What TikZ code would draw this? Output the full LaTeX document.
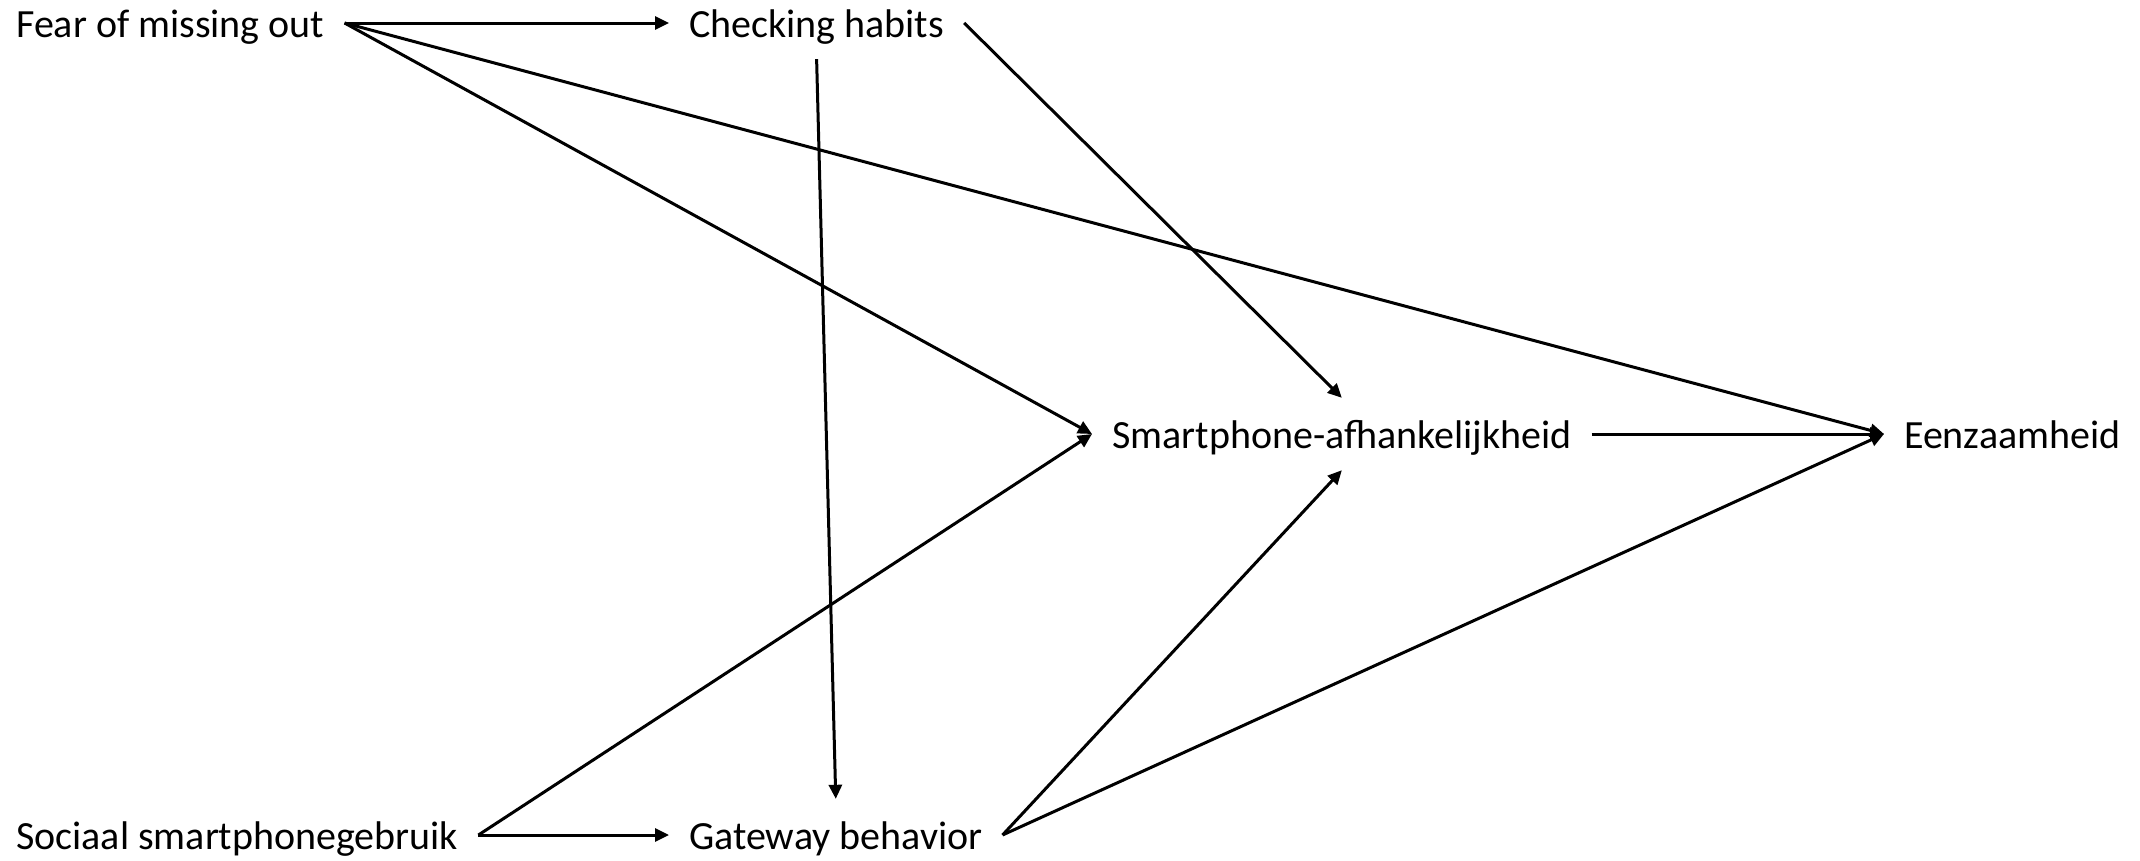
\documentclass[tikz,border=0pt]{standalone}
\usepackage{fontspec}
\setmainfont{Carlito}
\usetikzlibrary{arrows.meta}
\begin{document}
\begin{tikzpicture}[x=1pt,y=-1pt,
  lbl/.style={anchor=west,inner xsep=20pt,inner ysep=0pt,minimum height=72pt,
    text height=28pt,text depth=0pt,font=\fontsize{40}{48}\selectfont},
  conn/.style={line width=3pt,-{Triangle[length=14pt,width=13pt]}}]
\useasboundingbox (0,0) rectangle (2140,860);
\node[lbl] (fomo) at (-4,23) {Fear of missing out};
\node[lbl] (check) at (669,23) {Checking habits};
\node[lbl] (smart) at (1092,434) {Smartphone-afhankelijkheid};
\node[lbl] (een) at (1884,434) {Eenzaamheid};
\node[lbl] (soc) at (-4,835) {Sociaal smartphonegebruik};
\node[lbl] (gate) at (669,835) {Gateway behavior};
\draw[conn] (fomo.east) -- (check.west);
\draw[conn] (fomo.east) -- (smart.west);
\draw[conn] (fomo.east) -- (een.west);
\draw[conn] (check.south) -- (gate.north);
\draw[conn] (check.east) -- (smart.north);
\draw[conn] (smart.east) -- (een.west);
\draw[conn] (soc.east) -- (gate.west);
\draw[conn] (soc.east) -- (smart.west);
\draw[conn] (gate.east) -- (smart.south);
\draw[conn] (gate.east) -- (een.west);
\end{tikzpicture}
\end{document}
